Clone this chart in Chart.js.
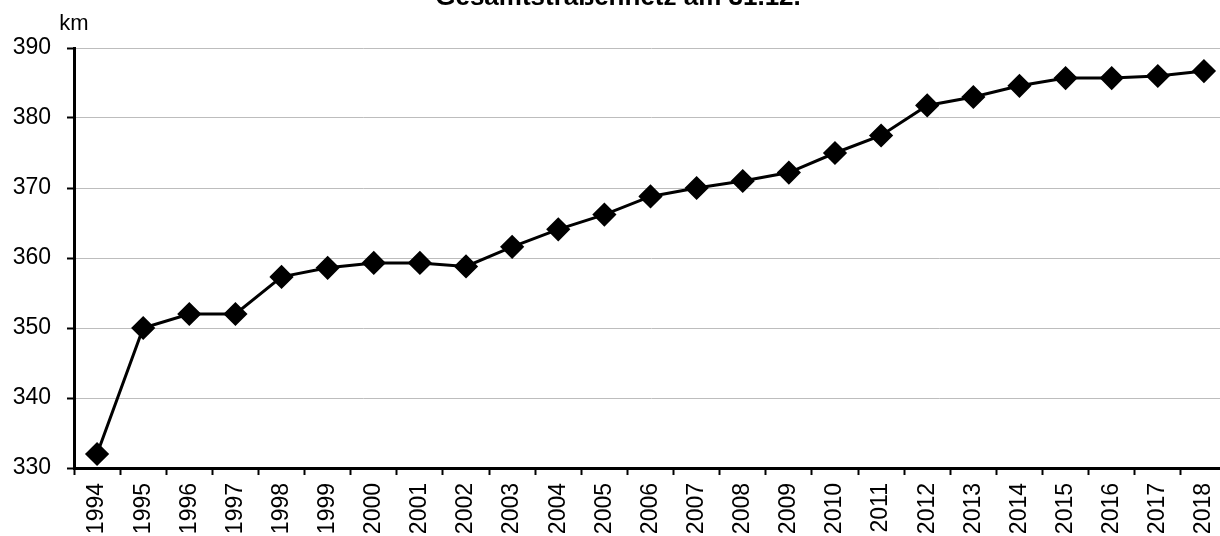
<!DOCTYPE html>
<html lang="de">
<head>
  <meta charset="UTF-8" />
  <title>Gesamtstraßennetz am 31.12.</title>
  <script src="https://cdn.jsdelivr.net/npm/chart.js"></script>
  <style>
    body { margin: 0; background: #fff; overflow: hidden; }
    /* the original picture is cropped on the right, so the canvas runs a bit past the window */
    #wrap { width: 1220px; height: 536px; overflow: hidden; }
  </style>
</head>
<body>
  <div id="wrap"><canvas id="chart" width="1240" height="536"></canvas></div>

  <script>
    const years = ["1994", "1995", "1996", "1997", "1998", "1999", "2000", "2001", "2002", "2003",
      "2004", "2005", "2006", "2007", "2008", "2009", "2010", "2011", "2012", "2013",
      "2014", "2015", "2016", "2017", "2018"];
    const netzKm = [332.0, 350.0, 352.0, 352.0, 357.3, 358.6, 359.3, 359.3, 358.8, 361.6,
      364.1, 366.2, 368.8, 370.0, 371.0, 372.2, 375.0, 377.5, 381.8, 383.0,
      384.6, 385.7, 385.7, 386.0, 386.7];
    const chartTitle = "Gesamtstraßennetz am 31.12.";
    const unitLabel = "km";
    const yMin = 330, yMax = 390, yStep = 10;

    const font = "'Liberation Sans', Arial, sans-serif";

    // title is cut off at the top edge in the original, the unit sits above the y axis
    const extraText = {
      id: "extraText",
      afterDraw(chart) {
        const c = chart.ctx;
        c.save();
        c.fillStyle = "#000";
        c.textAlign = "center";
        c.textBaseline = "alphabetic";
        c.font = "bold 26px " + font;
        c.fillText(chartTitle, 618, 5);
        c.font = "22px " + font;
        c.fillText(unitLabel, chart.chartArea.left, 30);
        c.restore();
      }
    };

    new Chart(document.getElementById("chart"), {
      type: "line",
      data: {
        labels: years,
        datasets: [{
          data: netzKm,
          borderColor: "#000",
          backgroundColor: "#000",
          borderWidth: 3,
          pointStyle: "rectRot",
          pointRadius: 10,
          pointHoverRadius: 10,
          tension: 0
        }]
      },
      options: {
        responsive: false,
        animation: false,
        layout: { padding: { top: 48, right: 0, left: 0, bottom: 0 } },
        plugins: { legend: { display: false }, tooltip: { enabled: false } },
        scales: {
          x: {
            offset: true,
            grid: { offset: true, drawOnChartArea: false, tickColor: "#000", tickLength: 7, tickWidth: 2 },
            border: { color: "#000", width: 3 },
            ticks: { color: "#000", font: { family: font, size: 23 }, minRotation: 90, maxRotation: 90, autoSkip: false, padding: 8 },
            afterFit(s) { s.height = 68; }
          },
          y: {
            min: yMin,
            max: yMax,
            grid: { color: "#bdbdbd", lineWidth: 1, tickColor: "#000", tickLength: 7, tickWidth: 2 },
            border: { color: "#000", width: 3 },
            ticks: { stepSize: yStep, color: "#000", font: { family: font, size: 23 }, padding: 16 },
            afterFit(s) { s.width = 74; }
          }
        }
      },
      plugins: [extraText]
    });
  </script>
</body>
</html>
